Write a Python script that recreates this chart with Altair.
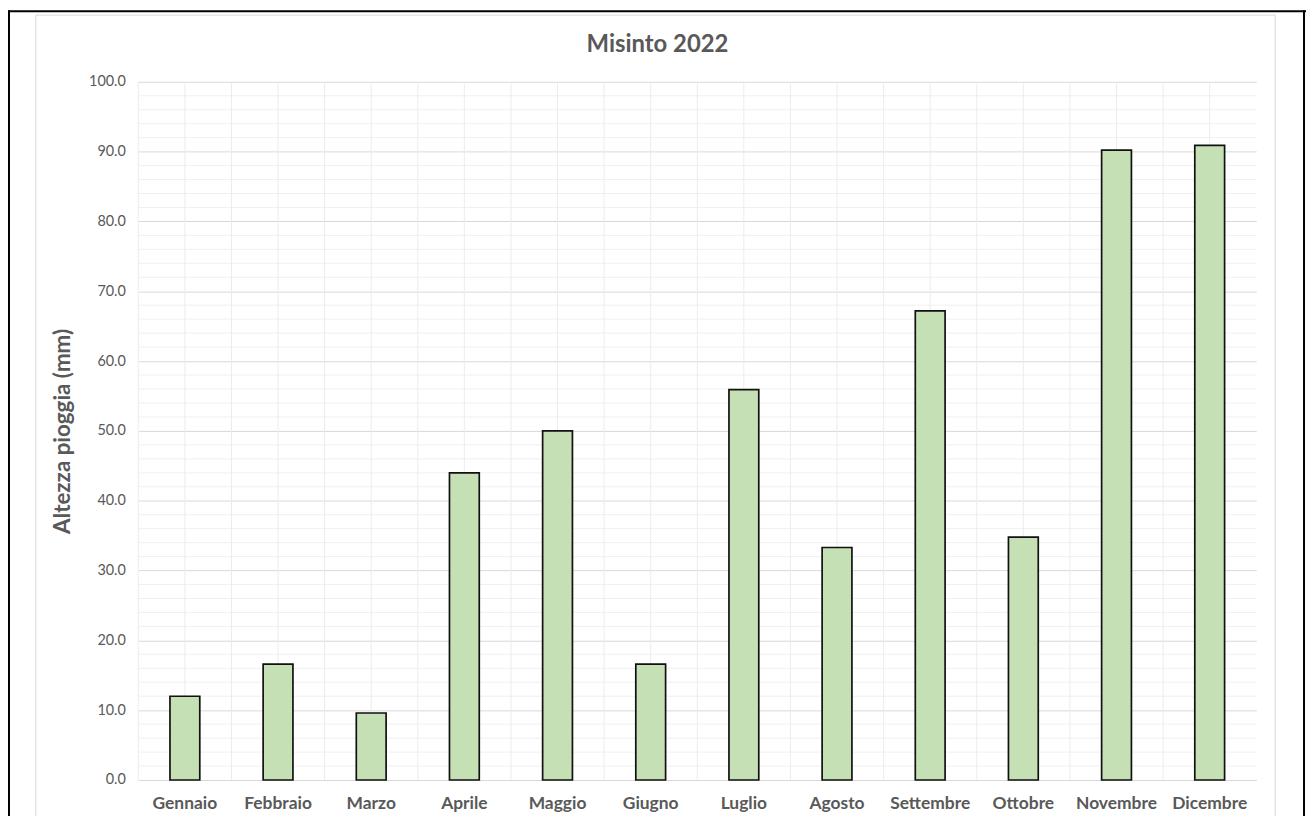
import altair as alt
import pandas as pd

# ---- data ----
months = ["Gennaio", "Febbraio", "Marzo", "Aprile", "Maggio", "Giugno",
          "Luglio", "Agosto", "Settembre", "Ottobre", "Novembre", "Dicembre"]
rain_mm = [12.0, 16.6, 9.6, 44.0, 50.0, 16.6, 55.9, 33.3, 67.2, 34.8, 90.2, 90.9]
major_ticks = [0, 10, 20, 30, 40, 50, 60, 70, 80, 90, 100]
minor_ticks = [v for v in range(2, 100, 2) if v % 10 != 0]
chart_title = "Misinto 2022"
y_title = "Altezza pioggia (mm)"

# ---- layout ----
W, H = 1124, 702
PAD = {"left": 131, "top": 72, "right": 50, "bottom": 34}
FONT = "Lato"
TXT = "#595959"

df = pd.DataFrame({"mese": months, "pioggia": rain_mm})
minor_df = pd.DataFrame({"g": minor_ticks})
one = pd.DataFrame({"k": [0]})

xscale = alt.Scale(domain=months, paddingInner=0, paddingOuter=0)
yscale = alt.Scale(domain=[0, 100], nice=False)

xaxis = alt.Axis(title=None, labelAngle=0, labelFont=FONT, labelFontSize=17.5,
                 labelFontWeight="bold", labelColor=TXT, labelPadding=15,
                 ticks=False, domain=True, domainColor="#d9d9d9", grid=False)
yaxis = alt.Axis(values=major_ticks, format=".1f", grid=True, gridColor="#d9d9d9",
                 gridWidth=1, domain=False, ticks=False, labelColor=TXT,
                 labelFont=FONT, labelFontSize=14.5, labelPadding=13,
                 title=y_title, titleFont=FONT, titleFontSize=22.5,
                 titleFontWeight="bold", titleColor=TXT, titleX=-76, titleY=351,
                 titleAngle=270, titleBaseline="middle", titleAlign="center")

frame = alt.Chart(one).mark_rect(fill="white", fillOpacity=0, stroke="#d9d9d9",
                                 strokeWidth=1).encode(
    x=alt.value(-103), x2=alt.value(1143), y=alt.value(-67), y2=alt.value(760))

minor = alt.Chart(minor_df).mark_rule(color="#f0f0f0", strokeWidth=1).encode(
    y=alt.Y("g:Q", scale=yscale, axis=yaxis))

vgrid_edge = alt.Chart(df).mark_rule(color="#ececec", strokeWidth=1).encode(
    x=alt.X("mese:N", scale=xscale, axis=xaxis, bandPosition=0))
vgrid_mid = alt.Chart(df).mark_rule(color="#ececec", strokeWidth=1).encode(
    x=alt.X("mese:N", scale=xscale, axis=xaxis, bandPosition=0.5))

bars = alt.Chart(df).mark_bar(fill="#C5E0B4", stroke="#111111", strokeWidth=1.7,
                              width={"band": 0.32}).encode(
    x=alt.X("mese:N", scale=xscale, axis=xaxis),
    y=alt.Y("pioggia:Q", scale=yscale, axis=yaxis),
    tooltip=["mese", "pioggia"])

title = alt.Chart(one).mark_text(text=chart_title, font=FONT, fontSize=24,
                                 fontWeight="bold", color=TXT, align="center",
                                 baseline="middle").encode(
    x=alt.value(522), y=alt.value(-37))

border_left = alt.Chart(one).mark_rule(color="black", strokeWidth=2).encode(
    x=alt.value(-130), y=alt.value(-72), y2=alt.value(760))
border_top = alt.Chart(one).mark_rule(color="black", strokeWidth=2).encode(
    x=alt.value(-131), x2=alt.value(1174), y=alt.value(-71))
border_right = alt.Chart(one).mark_rule(color="black", strokeWidth=2).encode(
    x=alt.value(1172), y=alt.value(-72), y2=alt.value(760))

chart = alt.layer(
    frame, minor, vgrid_edge, vgrid_mid, bars, title,
    border_left, border_top, border_right
).properties(
    width=W, height=H, padding=PAD, background="white",
    autosize=alt.AutoSizeParams(type="none")
).configure_view(strokeOpacity=0)

chart.save("out.html", embed_options={"renderer": "svg", "actions": False})
